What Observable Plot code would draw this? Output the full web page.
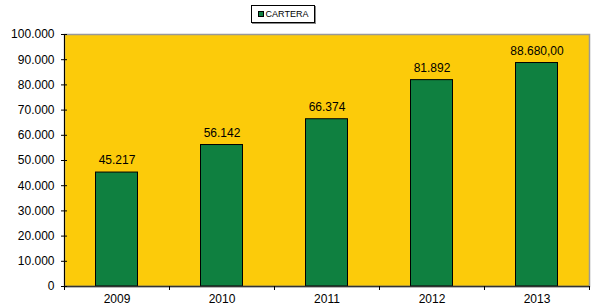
<!DOCTYPE html>
<html><head><meta charset="utf-8">
<script src="https://cdn.jsdelivr.net/npm/d3@7"></script>
<script src="https://cdn.jsdelivr.net/npm/@observablehq/plot@0.6"></script>
<style>
body{margin:0;background:#fff;font-family:"Liberation Sans",Arial,sans-serif;}
#wrap{position:relative;width:592px;height:308px;}
#legend{position:absolute;left:251px;top:5px;width:64px;height:18px;border:1px solid #000;box-shadow:1px 1px 0 #888;background:#fff;font-size:9px;display:flex;align-items:center;justify-content:center;box-sizing:border-box;z-index:2;}
#legend span.sw{display:inline-block;width:4px;height:4px;background:#0f8040;border:1px solid #000;margin-right:2px;}
</style></head>
<body><div id="wrap"><div id="legend"><span class="sw"></span>CARTERA</div></div>
<script>
const years = [2009, 2010, 2011, 2012, 2013];
const values = [45217, 56142, 66374, 81892, 88680];
const valueLabels = ["45.217", "56.142", "66.374", "81.892", "88.680,00"];
const yTicks = [0, 10000, 20000, 30000, 40000, 50000, 60000, 70000, 80000, 90000, 100000];
const seriesName = "CARTERA";

const data = years.map((y, i) => ({year: y, value: values[i], label: valueLabels[i]}));
const boundaries = [years[0] - 0.5, ...years.map(y => y + 0.5)];
const fmt = d3.formatLocale({decimal: ",", thousands: ".", grouping: [3], currency: ["", ""]}).format(",");

const chart = Plot.plot({
  width: 592, height: 308,
  marginTop: 34, marginBottom: 22, marginLeft: 64, marginRight: 3,
  style: {fontFamily: "Liberation Sans, Arial, sans-serif", fontSize: "12px", color: "#000", background: "transparent"},
  x: {domain: [years[0] - 0.5, years[years.length - 1] + 0.5], axis: null},
  y: {domain: [0, 100000], axis: null},
  marks: [
    Plot.frame({fill: "#fccb0a", stroke: "#999", strokeWidth: 1.5}),
    Plot.rectY(data, {x1: d => d.year - 0.2, x2: d => d.year + 0.2, y1: 0, y2: "value", fill: "#0f8040", stroke: "#000", strokeWidth: 1}),
    Plot.text(data, {x: "year", y: "value", text: "label", dy: -12, fontSize: 12, fill: "#000"}),
    Plot.ruleX([years[0] - 0.5], {stroke: "#000", strokeWidth: 1}),
    Plot.ruleY([0], {stroke: "#333", strokeWidth: 1.5}),
    Plot.axisY({ticks: yTicks, tickFormat: fmt, tickSize: 6, tickPadding: 7, fontSize: 12, dx: 3, label: null, stroke: "#000"}),
    Plot.axisX({ticks: boundaries, tickFormat: () => "", tickSize: 4, label: null, stroke: "#000"}),
    Plot.axisX({ticks: years, tickFormat: d => String(d), tickSize: 0, tickPadding: 8, fontSize: 12, label: null})
  ]
});
document.getElementById("wrap").appendChild(chart);
chart.style.position = "absolute"; chart.style.left = "0"; chart.style.top = "0";
</script></body></html>
